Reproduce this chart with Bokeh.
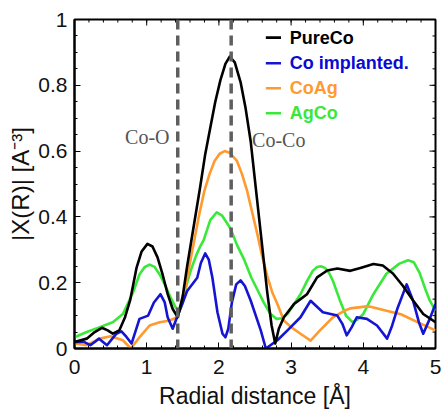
import math
from bokeh.plotting import figure
from bokeh.models import (SingleIntervalTicker, Range1d, Span, Label,
                          CustomJSTickFormatter)
from bokeh.embed import file_html
from bokeh.resources import INLINE

# ---------------- data ----------------
pure_x = [0, 0.17, 0.28, 0.38, 0.46, 0.53, 0.62, 0.70, 0.77, 0.86, 0.93, 1.01, 1.08, 1.15,
          1.22, 1.29, 1.36, 1.43, 1.50, 1.56, 1.65, 1.74, 1.81, 1.88, 1.95, 2.02, 2.09, 2.15,
          2.22, 2.30, 2.37, 2.44, 2.51, 2.58, 2.67, 2.73, 2.78, 2.83, 2.90, 3.04, 3.13, 3.22,
          3.36, 3.50, 3.64, 3.82, 3.96, 4.14, 4.27, 4.41, 4.55, 4.69, 4.83, 5.0]
pure_y = [0.020, 0.030, 0.050, 0.063, 0.055, 0.045, 0.055, 0.095, 0.146, 0.246, 0.295, 0.318,
          0.310, 0.277, 0.225, 0.166, 0.120, 0.095, 0.160, 0.250, 0.370, 0.490, 0.590, 0.670,
          0.750, 0.815, 0.865, 0.887, 0.870, 0.810, 0.730, 0.630, 0.490, 0.350, 0.170, 0.070,
          0.015, 0.060, 0.095, 0.135, 0.150, 0.165, 0.216, 0.237, 0.243, 0.236, 0.245, 0.257,
          0.252, 0.228, 0.190, 0.146, 0.105, 0.080]

impl_x = [0, 0.13, 0.22, 0.34, 0.45, 0.58, 0.65, 0.72, 0.79, 0.90, 1.02, 1.10, 1.19, 1.25,
          1.29, 1.36, 1.42, 1.50, 1.56, 1.70, 1.75, 1.81, 1.86, 1.91, 1.98, 2.05, 2.09, 2.13,
          2.18, 2.24, 2.30, 2.36, 2.44, 2.58, 2.65, 2.81, 2.95, 3.13, 3.27, 3.44, 3.64, 3.71,
          3.77, 3.84, 3.91, 4.05, 4.19, 4.33, 4.40, 4.47, 4.60, 4.69, 4.77, 4.83, 4.92, 5.0]
impl_y = [0.020, 0.020, 0.010, 0.030, 0.010, 0.045, 0.052, 0.035, 0.015, 0.090, 0.100, 0.140,
          0.165, 0.140, 0.095, 0.060, 0.095, 0.140, 0.175, 0.215, 0.260, 0.289, 0.270, 0.215,
          0.110, 0.045, 0.034, 0.060, 0.140, 0.195, 0.207, 0.190, 0.146, 0.055, 0.000, 0.025,
          0.055, 0.095, 0.145, 0.110, 0.100, 0.075, 0.040, 0.065, 0.095, 0.090, 0.070, 0.030,
          0.070, 0.120, 0.195, 0.145, 0.080, 0.045, 0.090, 0.135]

coag_x = [0, 0.17, 0.35, 0.50, 0.67, 0.78, 0.90, 1.04, 1.18, 1.32, 1.42, 1.52, 1.59, 1.66,
          1.73, 1.80, 1.87, 1.94, 2.01, 2.08, 2.15, 2.25, 2.32, 2.39, 2.46, 2.53, 2.60, 2.67,
          2.74, 2.81, 2.90, 3.00, 3.13, 3.27, 3.40, 3.58, 3.77, 3.82, 4.05, 4.10, 4.32, 4.52,
          4.75, 5.0]
coag_y = [0.015, 0.010, 0.030, 0.037, 0.025, 0.000, 0.034, 0.070, 0.080, 0.085, 0.095, 0.165,
          0.250, 0.330, 0.410, 0.480, 0.530, 0.570, 0.592, 0.600, 0.595, 0.570, 0.530, 0.480,
          0.415, 0.350, 0.280, 0.220, 0.170, 0.135, 0.085, 0.065, 0.045, 0.024, 0.055, 0.095,
          0.118, 0.122, 0.128, 0.127, 0.115, 0.104, 0.080, 0.055]

agco_x = [0, 0.17, 0.35, 0.53, 0.67, 0.81, 0.90, 0.97, 1.04, 1.11, 1.18, 1.25, 1.32, 1.40,
          1.45, 1.50, 1.56, 1.61, 1.68, 1.74, 1.79, 1.88, 1.97, 2.04, 2.10, 2.16, 2.25, 2.35,
          2.45, 2.53, 2.62, 2.71, 2.80, 2.87, 2.95, 3.04, 3.13, 3.22, 3.30, 3.36, 3.41, 3.47,
          3.53, 3.58, 3.67, 3.76, 3.85, 3.92, 4.00, 4.14, 4.32, 4.50, 4.62, 4.70, 4.78, 4.86,
          4.92, 5.0]
agco_y = [0.034, 0.050, 0.065, 0.080, 0.105, 0.170, 0.225, 0.247, 0.255, 0.248, 0.225, 0.195,
          0.160, 0.125, 0.110, 0.140, 0.200, 0.237, 0.280, 0.310, 0.330, 0.390, 0.414, 0.405,
          0.385, 0.365, 0.315, 0.270, 0.215, 0.180, 0.140, 0.106, 0.090, 0.092, 0.105, 0.135,
          0.165, 0.205, 0.236, 0.248, 0.250, 0.245, 0.228, 0.205, 0.150, 0.100, 0.080, 0.088,
          0.105, 0.165, 0.227, 0.258, 0.268, 0.262, 0.230, 0.180, 0.146, 0.115]

series_names = ["PureCo", "Co implanted.", "CoAg", "AgCo"]
line_colors = ["#000000", "#1414d2", "#ff9a2e", "#3ae83a"]
text_colors = ["#000000", "#0a0ad2", "#ff9a2e", "#3ae83a"]

markers_x = [1.43, 2.17]
bond_labels = ["Co-O", "Co-Co"]

X_MAX, Y_MAX = 5, 1
X_MAJOR, X_MINOR_N = 1, 5
Y_MAJOR, Y_MINOR_N = 0.2, 4

# ---------------- figure ----------------
p = figure(width=442, height=412, output_backend="svg", toolbar_location=None,
           x_range=Range1d(0, X_MAX), y_range=Range1d(0, Y_MAX),
           min_border_left=74, min_border_right=7, min_border_top=19, min_border_bottom=64,
           background_fill_color="white", border_fill_color="white")
p.grid.visible = False
p.outline_line_color = "black"
p.outline_line_width = 2

xt = SingleIntervalTicker(interval=X_MAJOR, num_minor_ticks=X_MINOR_N)
yt = SingleIntervalTicker(interval=Y_MAJOR, num_minor_ticks=Y_MINOR_N)
fmt = CustomJSTickFormatter(code="return tick.toFixed(1).replace(/\\.0$/, '');")

for ax, tk in ((p.xaxis[0], xt), (p.yaxis[0], yt)):
    ax.ticker = tk
    ax.major_tick_in = 6
    ax.major_tick_out = 0
    ax.minor_tick_in = 3
    ax.minor_tick_out = 0
    ax.axis_line_width = 2
    ax.major_tick_line_width = 1
    ax.minor_tick_line_width = 1
    ax.major_label_text_font = "Liberation Sans"
    ax.major_label_text_font_size = "21px"
    ax.major_label_text_color = "#111111"
    ax.axis_label_text_font = "Liberation Sans"
    ax.axis_label_text_font_size = "23px"
    ax.axis_label_text_font_style = "normal"
    ax.axis_label_text_color = "#111111"
    ax.formatter = fmt

p.xaxis.axis_label = "Radial distance [Å]"
p.yaxis.axis_label = "|X(R)| [A⁻³]"
p.yaxis.axis_label_text_font_size = "24px"
p.xaxis.major_label_standoff = 11
p.xaxis.axis_label_standoff = 6
p.yaxis.major_label_standoff = 7
p.yaxis.axis_label_standoff = 1

# inward ticks on the top and right frame edges (mirror of the bottom/left ticks)
x_minor_step = X_MAJOR / X_MINOR_N
y_minor_step = Y_MAJOR / Y_MINOR_N
top_major = [i * X_MAJOR for i in range(int(round(X_MAX / X_MAJOR)) + 1)]
top_minor = [i * x_minor_step for i in range(int(round(X_MAX / x_minor_step)) + 1)]
right_major = [round(i * Y_MAJOR, 6) for i in range(int(round(Y_MAX / Y_MAJOR)) + 1)]
right_minor = [round(i * y_minor_step, 6) for i in range(int(round(Y_MAX / y_minor_step)) + 1)]
p.ray(x=top_major, y=[Y_MAX] * len(top_major), length=6, length_units="screen",
      angle=-math.pi / 2, line_color="black", line_width=1)
p.ray(x=top_minor, y=[Y_MAX] * len(top_minor), length=3, length_units="screen",
      angle=-math.pi / 2, line_color="black", line_width=1)
p.ray(x=[X_MAX] * len(right_major), y=right_major, length=6, length_units="screen",
      angle=math.pi, line_color="black", line_width=1)
p.ray(x=[X_MAX] * len(right_minor), y=right_minor, length=3, length_units="screen",
      angle=math.pi, line_color="black", line_width=1)

# curves
all_x = [pure_x, impl_x, coag_x, agco_x]
all_y = [pure_y, impl_y, coag_y, agco_y]
draw_order = [3, 2, 1, 0]
for i in draw_order:
    p.line(all_x[i], all_y[i], line_color=line_colors[i], line_width=2.6, line_join="round")

# dashed markers
for xv in markers_x:
    p.add_layout(Span(location=xv, dimension="height", line_color="#5f5f5f",
                      line_width=3.5, line_dash="10 6"))

# bond labels
p.add_layout(Label(x=0.70, y=0.61, text=bond_labels[0], text_font="Liberation Serif",
                   text_font_size="20px", text_color="#555555"))
p.add_layout(Label(x=2.46, y=0.60, text=bond_labels[1], text_font="Liberation Serif",
                   text_font_size="20px", text_color="#555555"))

# legend (manual, coloured labels)
leg_y = [0.945, 0.867, 0.791, 0.715]
for i, name in enumerate(series_names):
    p.segment(x0=[2.65], y0=[leg_y[i]], x1=[2.86], y1=[leg_y[i]],
              line_color=line_colors[i], line_width=2.6)
    p.add_layout(Label(x=2.98, y=leg_y[i], text=name, text_font="Liberation Sans",
                       text_font_size="18px", text_font_style="bold",
                       text_color=text_colors[i], text_baseline="middle"))

open("out.html", "w").write(file_html(p, INLINE))
